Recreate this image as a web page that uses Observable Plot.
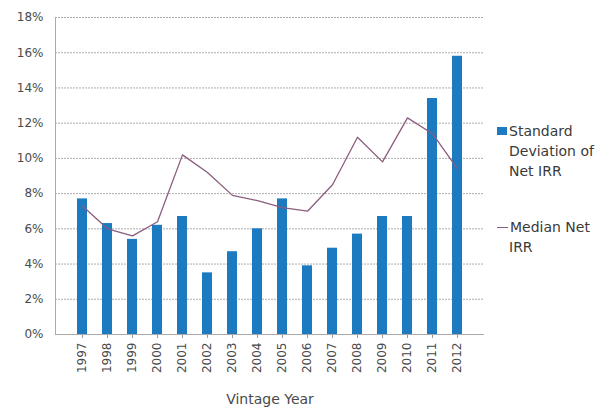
<!DOCTYPE html>
<html><head><meta charset="utf-8">
<script src="https://cdn.jsdelivr.net/npm/d3@7"></script>
<script src="https://cdn.jsdelivr.net/npm/@observablehq/plot@0.6"></script>
<style>
body{margin:0;background:#fff;font-family:"DejaVu Sans",sans-serif;}
#wrap{position:relative;width:611px;height:415px;}
.leg{position:absolute;left:497px;font-size:14px;color:#3a3a3a;line-height:20px;}
.sw{display:inline-block;width:10px;height:8px;background:#1b7ac0;margin-right:2px;vertical-align:1px;}
.ln{display:inline-block;width:11px;height:1.5px;background:#8b5c7e;margin-right:2px;vertical-align:4px;}
.ind{padding-left:12px;}
svg [aria-label="x-axis label"]{font-size:14px;}
svg [aria-label="x-axis tick"]{stroke:#999;}
</style></head>
<body><div id="wrap"></div>
<script>
const years = ["1997","1998","1999","2000","2001","2002","2003","2004","2005","2006","2007","2008","2009","2010","2011","2012"];
const stdDev = [7.7,6.3,5.4,6.2,6.7,3.5,4.7,6.0,7.7,3.9,4.9,5.7,6.7,6.7,13.4,15.8];
const medianIRR = [7.3,6.0,5.6,6.4,10.2,9.2,7.9,7.6,7.2,7.0,8.5,11.2,9.8,12.3,11.4,9.4];
const yTicks = [0,2,4,6,8,10,12,14,16,18];
const seriesNames = ["Standard Deviation of Net IRR","Median Net IRR"];

const data = years.map((y,i)=>({year:y, sd:stdDev[i], med:medianIRR[i]}));

const chart = Plot.plot({
  width:611, height:415,
  marginLeft:55, marginRight:127, marginTop:17, marginBottom:81,
  style:{fontFamily:"DejaVu Sans", fontSize:"12px", color:"#4a4a4a", background:"#fff"},
  x:{domain:years, padding:0.6, label:"Vintage Year", labelAnchor:"center", labelOffset:69, tickRotate:-90, tickSize:4, tickPadding:4},
  y:{domain:[0,18], ticks:yTicks, tickFormat:d=>d+"%", label:null, tickSize:0, tickPadding:12},
  marks:[
    Plot.gridY(yTicks,{stroke:"#9a9a9a", strokeOpacity:0.8, strokeDasharray:"2,1"}),
    Plot.frame({anchor:"left", stroke:"#aaa"}),
    Plot.ruleY([0],{stroke:"#aaa"}),
    Plot.barY(data,{x:"year", y:"sd", fill:"#1b7ac0"}),
    Plot.line(data,{x:"year", y:"med", stroke:"#8b5c7e", strokeWidth:1.3})
  ]
});
const wrap = document.getElementById("wrap");
wrap.appendChild(chart);
const l1 = document.createElement("div");
l1.className="leg"; l1.style.top="121px";
l1.innerHTML = '<span class="sw"></span>Standard<br><span class="ind">Deviation of</span><br><span class="ind">Net IRR</span>';
wrap.appendChild(l1);
const l2 = document.createElement("div");
l2.className="leg"; l2.style.top="217px";
l2.innerHTML = '<span class="ln"></span>Median Net<br><span class="ind">IRR</span>';
wrap.appendChild(l2);
</script></body></html>
